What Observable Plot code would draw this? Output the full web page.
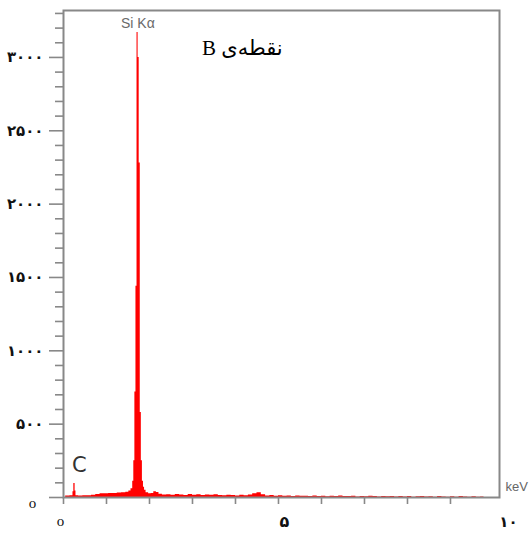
<!DOCTYPE html>
<html>
<head>
<meta charset="utf-8">
<script src="https://cdn.jsdelivr.net/npm/d3@7"></script>
<script src="https://cdn.jsdelivr.net/npm/@observablehq/plot@0.6"></script>
<style>
  html, body { margin: 0; padding: 0; background: #fff; }
  #chart svg { display: block; }
</style>
</head>
<body>
<div id="chart"></div>
<script>
// Spectrum channels: start energy (keV) and counts
const energy = [
  0.00, 0.05, 0.15, 0.22, 0.24, 0.27, 0.29, 0.35, 0.45, 0.55, 0.65, 0.75, 0.85, 0.95,
  1.05, 1.15, 1.25, 1.35, 1.45, 1.52, 1.57,
  1.61, 1.635, 1.66, 1.685, 1.71, 1.735, 1.76, 1.785, 1.81, 1.835, 1.86,
  1.885, 1.92, 1.98, 2.04, 2.10, 2.16, 2.22, 2.30,
  2.4, 2.5, 2.6, 2.7, 2.8, 2.9, 3.0, 3.1, 3.2, 3.3, 3.4, 3.5, 3.6, 3.7, 3.8, 3.9,
  4.0, 4.1, 4.2, 4.3, 4.4, 4.5, 4.6, 4.7, 4.8, 4.9, 5.0, 5.1, 5.2, 5.3, 5.4, 5.5,
  5.6, 5.7, 5.8, 5.9, 6.0, 6.1, 6.2, 6.3, 6.4, 6.5, 6.6, 6.7, 6.8, 6.9, 7.0, 7.1,
  7.2, 7.3, 7.4, 7.5, 7.6, 7.7, 7.8, 7.9, 8.0, 8.1, 8.2, 8.3, 8.4, 8.5, 8.6, 8.7,
  8.8, 8.9, 9.0, 9.1, 9.2, 9.3, 9.4, 9.5, 9.6, 9.7, 9.78
];
const counts = [
  0, 10, 12, 40, 95, 45, 12, 10, 12, 12, 15, 20, 26, 25,
  28, 27, 30, 32, 36, 44, 60,
  110, 250, 720, 1440, 3170, 3000, 2280, 580, 250, 110, 70,
  50, 32, 25, 27, 40, 34, 22, 17,
  19, 15, 21, 17, 14, 20, 16, 18, 13, 17, 15, 19, 14, 12, 16, 13,
  11, 15, 12, 17, 26, 32, 18, 11, 13, 9, 12, 8, 11, 7, 10, 8,
  9, 6, 10, 7, 8, 5, 9, 6, 11, 7, 6, 8, 4, 7, 5, 8,
  6, 4, 7, 5, 6, 3, 7, 4, 6, 2, 5, 7, 3, 5, 2, 6,
  4, 2, 5, 1, 6, 3, 2, 5, 1, 4, 0
];

// Axis ticks and labels
const yMajor = [0, 500, 1000, 1500, 2000, 2500, 3000];
const yMajorLabels = ["", "۵۰۰", "۱۰۰۰", "۱۵۰۰", "۲۰۰۰", "۲۵۰۰", "۳۰۰۰"];
const yZeroLabel = "o";
const yMinor = [100,200,300,400,600,700,800,900,1100,1200,1300,1400,1600,1700,1800,1900,
                2100,2200,2300,2400,2600,2700,2800,2900,3100,3200,3300];
const xTicks = [0, 1, 2, 3, 4, 5, 6, 7, 8, 9];
const xLabelZero = "o";
const xLabelFive = "۵";
const xLabelTen = "۱۰";
const unitLabel = "keV";
const peakLabel = "Si Kα";
const carbonLabel = "C";
const titleLabel = "نقطه‌ی B";

const spectrum = energy.map((e, i) => ({e, c: counts[i]}));
const yLab = yMajor.map((v, i) => ({v, t: yMajorLabels[i]})).filter(d => d.t);

const gray = "#888";
const chart = Plot.plot({
  width: 529,
  height: 542,
  marginLeft: 63,
  marginRight: 30,
  marginTop: 10,
  marginBottom: 45,
  style: {fontFamily: "'DejaVu Sans', sans-serif", background: "#fff"},
  x: {domain: [0, 10.14], axis: null},
  y: {domain: [0, 3320], axis: null},
  marks: [
    Plot.areaY(spectrum, {x: "e", y: "c", curve: "step-after", fill: "#ff0000"}),
    Plot.frame({stroke: gray, strokeWidth: 2}),
    Plot.axisY({ticks: yMajor, tickSize: 14, tickFormat: () => "", label: null, stroke: gray, strokeWidth: 1.6}),
    Plot.axisY({ticks: yMinor, tickSize: 8, tickFormat: () => "", label: null, stroke: gray, strokeWidth: 1.6}),
    Plot.axisX({ticks: xTicks, tickSize: 7, tickFormat: () => "", label: null, stroke: gray, strokeWidth: 1.6}),
    Plot.text(yLab, {y: "v", text: "t", frameAnchor: "left", textAnchor: "end", dx: -20,
      fontSize: 15, fontWeight: "bold", fill: "#111"}),
    Plot.text([yZeroLabel], {y: 0, text: d => d, frameAnchor: "left", textAnchor: "middle", dx: -31, dy: 6,
      fontSize: 15, fontFamily: "'Liberation Serif', serif", fill: "#111"}),
    Plot.text([xLabelZero], {x: 0, text: d => d, frameAnchor: "bottom", dy: 28, textAnchor: "middle", dx: -3,
      fontSize: 15, fontFamily: "'Liberation Serif', serif", fill: "#111"}),
    Plot.text([xLabelFive], {x: 5, text: d => d, frameAnchor: "bottom", dy: 29, textAnchor: "middle", dx: 6,
      fontSize: 16, fontWeight: "bold", fill: "#111"}),
    Plot.text([xLabelTen], {x: 10, text: d => d, frameAnchor: "bottom", dy: 29, textAnchor: "middle", dx: 15,
      fontSize: 15, fontWeight: "bold", fill: "#111"}),
    Plot.text([unitLabel], {text: d => d, frameAnchor: "bottom-right", textAnchor: "start", dx: 6, dy: -7,
      fontSize: 13, fontFamily: "'Liberation Sans', Arial, sans-serif", fill: "#666"}),
    Plot.text([peakLabel], {x: 1.73, y: 3231, text: d => d, textAnchor: "middle",
      fontSize: 14, fontFamily: "'Liberation Sans', Arial, sans-serif", fill: "#6a6a6a"}),
    Plot.text([carbonLabel], {x: 0.37, y: 218, text: d => d, textAnchor: "middle",
      fontSize: 21, fontFamily: "'DejaVu Sans', sans-serif", fill: "#333"}),
    Plot.text([titleLabel], {x: 4.16, y: 3061, text: d => "\u2067" + d + "\u2069", textAnchor: "middle",
      fontSize: 21, fontFamily: "'Liberation Serif', 'DejaVu Sans', serif", fill: "#000"})
  ]
});
document.getElementById("chart").appendChild(chart);
</script>
</body>
</html>
